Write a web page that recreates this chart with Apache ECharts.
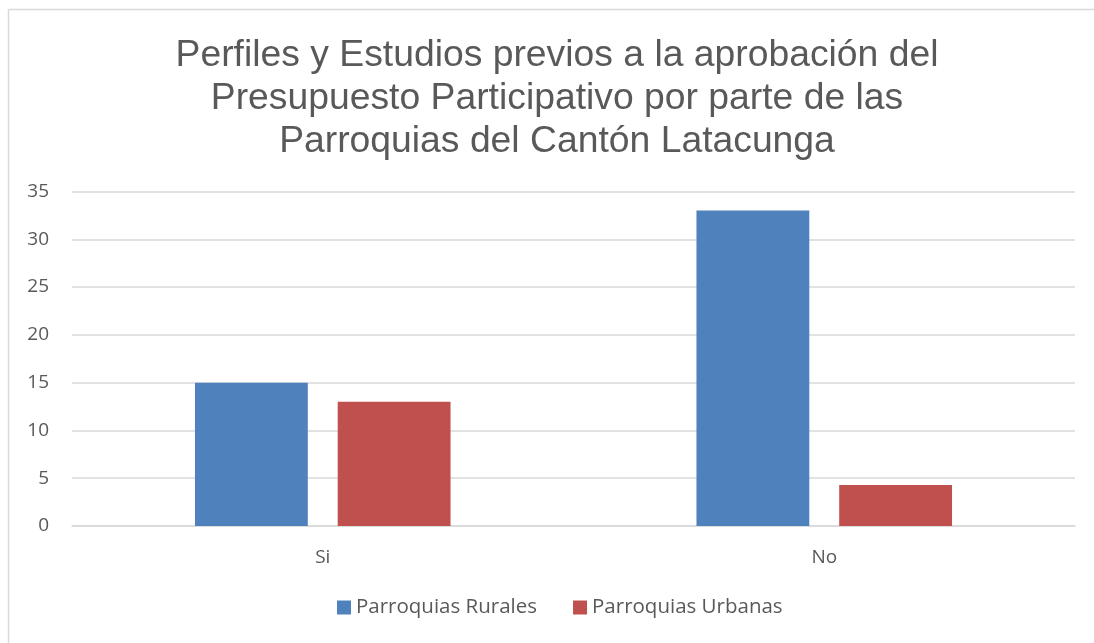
<!DOCTYPE html>
<html><head><meta charset="utf-8">
<script src="https://cdn.jsdelivr.net/npm/echarts@6/dist/echarts.min.js"></script>
<style>html,body{margin:0;padding:0;background:#fff;overflow:hidden}#c{width:1094px;height:643px}</style>
</head><body><div id="c"></div>
<script>
const categories = ['Si', 'No'];
const rurales = [15, 33];
const urbanas = [13, 4.3];
const seriesNames = ['Parroquias Rurales', 'Parroquias Urbanas'];
const titleText = 'Perfiles y Estudios previos a la aprobación del\nPresupuesto Participativo por parte de las\nParroquias del Cantón Latacunga';

const chart = echarts.init(document.getElementById('c'));
chart.setOption({
  animation: false,
  backgroundColor: '#fff',
  graphic: [
    {type: 'line', shape: {x1: 8.5, y1: 9.5, x2: 1100, y2: 9.5}, style: {stroke: '#d9d9d9', lineWidth: 1.5}, silent: true},
    {type: 'line', shape: {x1: 8.5, y1: 9.5, x2: 8.5, y2: 650}, style: {stroke: '#d9d9d9', lineWidth: 1.5}, silent: true}
  ],
  title: {
    text: titleText, left: 552, textAlign: 'center', top: 29,
    textStyle: {fontFamily: 'Liberation Sans', fontSize: 37.3, fontWeight: 'normal', color: '#595959', lineHeight: 43}
  },
  legend: {
    bottom: 20, left: 332, itemWidth: 14, itemHeight: 14, itemGap: 36, icon: 'rect',
    textStyle: {fontFamily: 'Open Sans', fontSize: 20.5, color: '#595959'},
    data: seriesNames
  },
  grid: {left: 72, right: 19, top: 191.5, bottom: 117, containLabel: false},
  xAxis: {
    type: 'category', data: categories,
    axisLine: {lineStyle: {color: '#d9d9d9', width: 1.5}},
    axisTick: {show: false},
    axisLabel: {fontFamily: 'Open Sans', fontSize: 19, color: '#595959', margin: 22}
  },
  yAxis: {
    type: 'value', min: 0, max: 35, interval: 5,
    axisLine: {show: false}, axisTick: {show: false},
    splitLine: {lineStyle: {color: '#d9d9d9', width: 1.5}},
    axisLabel: {fontFamily: 'Open Sans', fontSize: 19, color: '#595959', margin: 23}
  },
  series: [
    {name: seriesNames[0], type: 'bar', data: rurales, barWidth: '22.5%', barGap: '26.5%', itemStyle: {color: '#4f81bd'}},
    {name: seriesNames[1], type: 'bar', data: urbanas, barWidth: '22.5%', itemStyle: {color: '#c0504d'}}
  ]
});
</script></body></html>
